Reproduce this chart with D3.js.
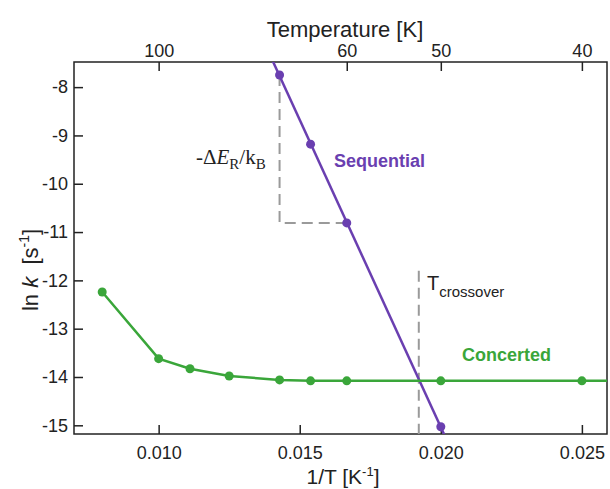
<!DOCTYPE html>
<html>
<head>
<meta charset="utf-8">
<script src="https://cdn.jsdelivr.net/npm/d3@7"></script>
<style>
    body { margin: 0; background: #fff; }
    svg { display: block; font-family: 'Liberation Sans', Arial, sans-serif; }
</style>
</head>
<body>
<div id="chart"></div>
<script>
// temperatures (K) of the points, and their ln k values
const concertedTemps = [125, 100, 90, 80, 70, 65, 60, 50, 40];
const concertedLnK = [-12.24, -13.62, -13.83, -13.98, -14.06, -14.08, -14.08, -14.08, -14.08];
const sequentialTemps = [70, 65, 60, 50];
const sequentialLnK = [-7.75, -9.18, -10.81, -15.03];

const bottomTicks = [0.01, 0.015, 0.02, 0.025];
const topTicks = [100, 60, 50, 40];
const leftTicks = [-8, -9, -10, -11, -12, -13, -14, -15];
const crossoverInvT = 0.01922;

const PURPLE = '#6a3fb0';
const GREEN = '#3aa63a';
const GREY = '#9a9a9a';

const width = 610;
const height = 489;
const margin = { top: 62, right: 3, bottom: 55, left: 74 };
const innerW = width - margin.left - margin.right;
const innerH = height - margin.top - margin.bottom;

const svg = d3.select('#chart')
    .append('svg')
    .attr('width', width)
    .attr('height', height);

const x = d3.scaleLinear().domain([0.007, 0.02589]).range([0, innerW]);
const y = d3.scaleLinear().domain([-7.48, -15.18]).range([0, innerH]);

const g = svg.append('g')
    .attr('transform', 'translate(' + margin.left + ',' + margin.top + ')');

g.append('defs').append('clipPath').attr('id', 'plot-clip')
    .append('rect').attr('width', innerW).attr('height', innerH);

// axes, ticks pointing inwards
const bottomAxis = d3.axisBottom(x).tickValues(bottomTicks)
    .tickFormat(d3.format('.3f')).tickSizeInner(-9).tickSizeOuter(0).tickPadding(12);
const leftAxis = d3.axisLeft(y).tickValues(leftTicks)
    .tickFormat((d) => d).tickSizeInner(-9).tickSizeOuter(0).tickPadding(6);
const topAxis = d3.axisTop(x).tickValues(topTicks.map((t) => 1 / t))
    .tickFormat((d) => Math.round(1 / d)).tickSizeInner(-9).tickSizeOuter(0).tickPadding(5);

const styleAxis = (sel) => {
    sel.select('.domain').remove();
    sel.selectAll('.tick line').attr('stroke', '#222').attr('stroke-width', 1.5);
    sel.selectAll('.tick text').attr('fill', '#222').style('font-size', '18px')
        .style('font-family', "'Liberation Sans', Arial, sans-serif");
};

g.append('g').attr('transform', 'translate(0,' + innerH + ')').call(bottomAxis).call(styleAxis);
g.append('g').call(leftAxis).call(styleAxis);
g.append('g').call(topAxis).call(styleAxis);

g.append('rect')
    .attr('width', innerW).attr('height', innerH)
    .attr('fill', 'none').attr('stroke', '#222').attr('stroke-width', 1.5);

// axis titles
svg.append('text')
    .attr('x', 345).attr('y', 37)
    .attr('text-anchor', 'middle')
    .style('font-size', '22px').attr('fill', '#222')
    .text('Temperature [K]');

const xt = svg.append('text')
    .attr('x', 343).attr('y', 484)
    .attr('text-anchor', 'middle')
    .style('font-size', '21px').attr('fill', '#222');
xt.append('tspan').text('1/T [K');
xt.append('tspan').attr('dy', -8).style('font-size', '13px').text('-1');
xt.append('tspan').attr('dy', 8).text(']');

const yt = svg.append('text')
    .attr('transform', 'translate(38,270) rotate(-90)')
    .attr('text-anchor', 'middle')
    .style('font-size', '22px').attr('fill', '#222')
    .attr('xml:space', 'preserve');
yt.append('tspan').text('ln ');
yt.append('tspan').style('font-style', 'italic').text('k');
yt.append('tspan').text('\u00a0\u00a0[s');
yt.append('tspan').attr('dy', -9).style('font-size', '14px').text('-1');
yt.append('tspan').attr('dy', 9).text(']');

// dashed guides
const seqPts = sequentialTemps.map((t, i) => ({ x: 1 / t, y: sequentialLnK[i] }));
const conPts = concertedTemps.map((t, i) => ({ x: 1 / t, y: concertedLnK[i] }));

g.append('path')
    .attr('d', d3.line()([
        [x(seqPts[0].x), y(seqPts[0].y)],
        [x(seqPts[0].x), y(seqPts[2].y)],
        [x(seqPts[2].x), y(seqPts[2].y)]
    ]))
    .attr('fill', 'none').attr('stroke', GREY).attr('stroke-width', 2)
    .attr('stroke-dasharray', '11,6');

g.append('line')
    .attr('x1', x(crossoverInvT)).attr('x2', x(crossoverInvT))
    .attr('y1', y(-11.8)).attr('y2', innerH)
    .attr('stroke', GREY).attr('stroke-width', 2)
    .attr('stroke-dasharray', '11,6');

// sequential: least squares line through its points, clipped to the frame
const mx = d3.mean(seqPts, (d) => d.x);
const my = d3.mean(seqPts, (d) => d.y);
const slope = d3.sum(seqPts, (d) => (d.x - mx) * (d.y - my)) /
    d3.sum(seqPts, (d) => (d.x - mx) * (d.x - mx));
const fit = (v) => my + slope * (v - mx);
const fitEnds = [0.0135, 0.0205];

const plot = g.append('g').attr('clip-path', 'url(#plot-clip)');

plot.append('path')
    .attr('d', d3.line()(fitEnds.map((v) => [x(v), y(fit(v))])))
    .attr('fill', 'none').attr('stroke', PURPLE).attr('stroke-width', 2.5);

plot.selectAll('.seq')
    .data(seqPts).enter().append('circle')
    .attr('cx', (d) => x(d.x)).attr('cy', (d) => y(d.y))
    .attr('r', 4.5).attr('fill', PURPLE);

// concerted: connected points, flat tail to the right edge
const conLine = conPts.map((d) => [x(d.x), y(d.y)]);
conLine.push([x(x.domain()[1]), y(conPts[conPts.length - 1].y)]);

plot.append('path')
    .attr('d', d3.line()(conLine))
    .attr('fill', 'none').attr('stroke', GREEN).attr('stroke-width', 2.5);

plot.selectAll('.con')
    .data(conPts).enter().append('circle')
    .attr('cx', (d) => x(d.x)).attr('cy', (d) => y(d.y))
    .attr('r', 4.5).attr('fill', GREEN);

// labels
svg.append('text')
    .attr('x', 334).attr('y', 167)
    .style('font-size', '18px').style('font-weight', 'bold')
    .attr('fill', PURPLE).text('Sequential');

svg.append('text')
    .attr('x', 462).attr('y', 361)
    .style('font-size', '18px').style('font-weight', 'bold')
    .attr('fill', GREEN).text('Concerted');

const dl = svg.append('text')
    .attr('x', 196).attr('y', 164)
    .style('font-family', "'Liberation Serif', 'Times New Roman', serif")
    .style('font-size', '21px').attr('fill', '#222');
dl.append('tspan').text('-\u0394');
dl.append('tspan').style('font-style', 'italic').text('E');
dl.append('tspan').attr('dy', 5).style('font-size', '15px').text('R');
dl.append('tspan').attr('dy', -5).text('/k');
dl.append('tspan').attr('dy', 5).style('font-size', '15px').text('B');

const tc = svg.append('text')
    .attr('x', 427).attr('y', 290)
    .style('font-size', '20px').attr('fill', '#222');
tc.append('tspan').text('T');
tc.append('tspan').attr('dy', 7).style('font-size', '15px').text('crossover');
</script>
</body>
</html>
